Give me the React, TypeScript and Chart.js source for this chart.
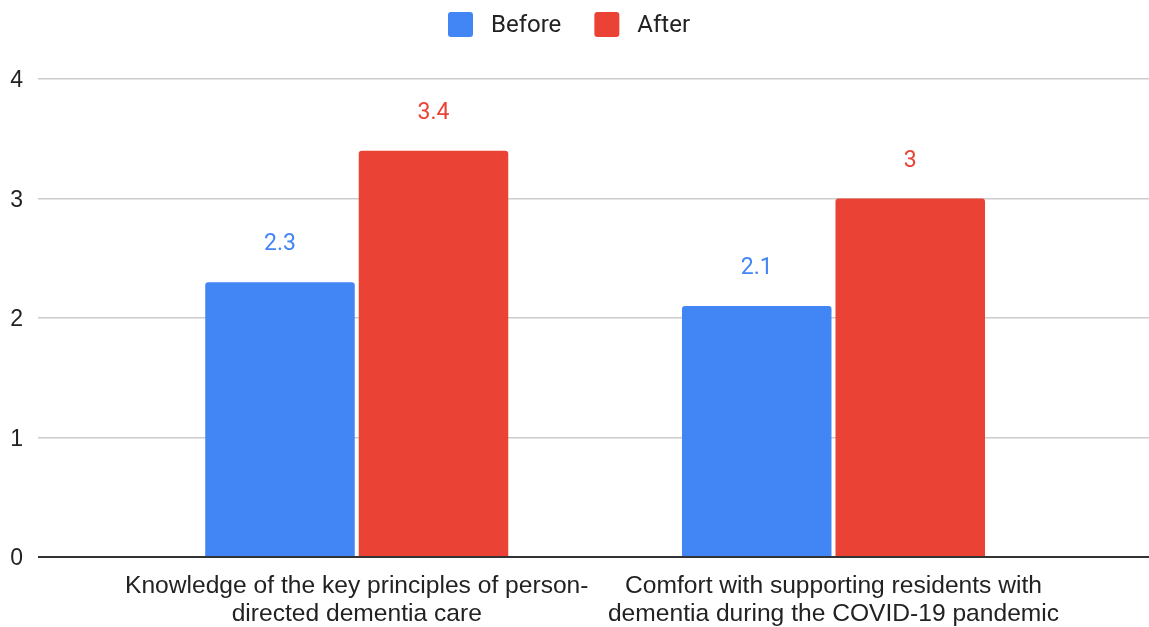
import React, { useEffect, useRef } from "react";
import { Chart, registerables } from "chart.js";

Chart.register(...registerables);

const categories: string[][] = [
  ["Knowledge of the key principles of person-", "directed dementia care"],
  ["Comfort with supporting residents with", "dementia during the COVID-19 pandemic"],
];
const categoryPositions = [0, 1];
const beforeValues = [2.3, 2.1];
const afterValues = [3.4, 3.0];
const seriesNames = ["Before", "After"];
const seriesColors = ["#4285F4", "#EA4335"];
const yTicks = [0, 1, 2, 3, 4];

const AXIS_FONT = "'Liberation Sans', Arial, sans-serif";
const LABEL_FONT = "Roboto, 'Liberation Sans', Arial, sans-serif";

const legendPlugin = {
  id: "customLegend",
  afterDraw(chart: any) {
    const ctx = chart.ctx;
    ctx.save();
    ctx.font = `24px ${LABEL_FONT}`;
    ctx.textBaseline = "middle";
    const box = 25;
    const gapBoxText = 18;
    const gapItems = 33;
    const widths = seriesNames.map((n) => ctx.measureText(n).width);
    let x = 448;
    const cy = 24.5;
    seriesNames.forEach((n, i) => {
      ctx.fillStyle = seriesColors[i];
      ctx.beginPath();
      (ctx as any).roundRect(x, cy - box / 2, box, box, 3);
      ctx.fill();
      ctx.fillStyle = "#222222";
      ctx.textAlign = "left";
      ctx.fillText(n, x + box + gapBoxText, cy + 1);
      x += box + gapBoxText + widths[i] + gapItems;
    });
    ctx.restore();
  },
};

const valueLabelPlugin = {
  id: "valueLabels",
  afterDatasetsDraw(chart: any) {
    const ctx = chart.ctx;
    ctx.save();
    ctx.font = `23px ${LABEL_FONT}`;
    ctx.textAlign = "center";
    ctx.textBaseline = "alphabetic";
    chart.data.datasets.forEach((ds: any, di: number) => {
      const meta = chart.getDatasetMeta(di);
      meta.data.forEach((bar: any, i: number) => {
        const v = ds.data[i].y;
        ctx.fillStyle = seriesColors[di];
        ctx.fillText(String(v), bar.x, bar.y - 32);
      });
    });
    ctx.restore();
  },
};

export default function App() {
  const canvasRef = useRef<HTMLCanvasElement | null>(null);

  useEffect(() => {
    document.body.style.margin = "0";
    const canvas = canvasRef.current;
    if (!canvas) return;
    const chart = new Chart(canvas, {
      type: "bar",
      data: {
        datasets: [
          {
            label: seriesNames[0],
            data: categoryPositions.map((x, i) => ({ x, y: beforeValues[i] })),
            backgroundColor: seriesColors[0],
            borderRadius: 3,
            borderSkipped: "start",
            barPercentage: 0.974,
            categoryPercentage: 0.644,
          },
          {
            label: seriesNames[1],
            data: categoryPositions.map((x, i) => ({ x, y: afterValues[i] })),
            backgroundColor: seriesColors[1],
            borderRadius: 3,
            borderSkipped: "start",
            barPercentage: 0.974,
            categoryPercentage: 0.644,
          },
        ],
      },
      options: {
        animation: false,
        responsive: false,
        devicePixelRatio: 1,
        layout: { padding: { top: 79, left: 0, right: 0, bottom: 0 } },
        plugins: {
          legend: { display: false },
          tooltip: { enabled: false },
        },
        scales: {
          x: {
            type: "linear",
            min: -0.6686,
            max: 1.6618,
            offset: false,
            grid: { display: false },
            border: { display: false },
            afterBuildTicks: (scale: any) => {
              scale.ticks = categoryPositions.map((v) => ({ value: v }));
            },
            afterFit: (scale: any) => {
              scale.height = 70;
            },
            ticks: {
              autoSkip: false,
              maxRotation: 0,
              minRotation: 0,
              padding: 7,
              color: "#222222",
              font: { family: AXIS_FONT, size: 24.6, lineHeight: 1.14 },
              callback: (v: any) => categories[categoryPositions.indexOf(Number(v))] ?? "",
            },
          },
          y: {
            min: 0,
            max: 4,
            afterBuildTicks: (scale: any) => {
              scale.ticks = yTicks.map((v) => ({ value: v }));
            },
            afterFit: (scale: any) => {
              scale.width = 38;
            },
            border: { display: false },
            grid: {
              drawTicks: false,
              color: (c: any) => (c.tick && c.tick.value === 0 ? "#333333" : "#cccccc"),
              lineWidth: (c: any) => (c.tick && c.tick.value === 0 ? 2 : 1.5),
            },
            ticks: {
              padding: 15,
              labelOffset: 2,
              color: "#222222",
              font: { family: AXIS_FONT, size: 23 },
            },
          },
        },
      },
      plugins: [legendPlugin, valueLabelPlugin],
    } as any);
    return () => chart.destroy();
  }, []);

  return (
    <div style={{ width: 1149, height: 627 }}>
      <canvas ref={canvasRef} width={1149} height={627} style={{ width: 1149, height: 627, display: "block" }} />
    </div>
  );
}
